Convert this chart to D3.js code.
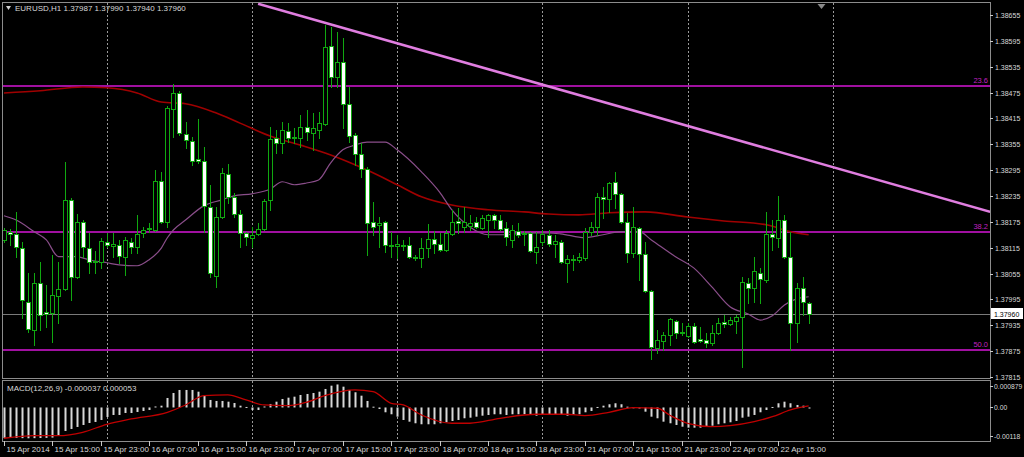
<!DOCTYPE html>
<html><head><meta charset="utf-8">
<script src="https://cdn.jsdelivr.net/npm/d3@7"></script>
<style>
html,body{margin:0;padding:0;background:#000;}
svg{display:block;}
text{font-family:"Liberation Sans",Arial,sans-serif;}
</style></head>
<body><svg id="c" width="1024" height="457"></svg>
<script>
// ---------- DATA ----------
const symbolTitle = "EURUSD,H1 1.37987 1.37990 1.37940 1.37960";
const macdTitle = "MACD(12,26,9) -0.000037 0.000053";
const opens = [1.38133,1.38152,1.38147,1.38114,1.37989,1.37924,1.38033,1.37966,1.37964,1.38003,
1.38019,1.38226,1.38047,1.38175,1.38114,1.38082,1.38082,1.38128,1.38119,1.38121,
1.38094,1.38128,1.38117,1.38149,1.38158,1.38156,1.38270,1.38175,1.38437,1.38474,
1.38379,1.38363,1.38321,1.38316,1.38210,1.38050,1.38186,1.38286,1.38233,1.38193,
1.38149,1.38138,1.38147,1.38158,1.38226,1.38370,1.38358,1.38386,1.38370,1.38370,
1.38395,1.38381,1.38388,1.38402,1.38583,1.38511,1.38546,1.38449,1.38377,1.38333,
1.38298,1.38175,1.38168,1.38175,1.38121,1.38119,1.38121,1.38121,1.38094,1.38091,
1.38114,1.38135,1.38124,1.38110,1.38147,1.38177,1.38163,1.38165,1.38175,1.38161,
1.38179,1.38191,1.38179,1.38161,1.38133,1.38154,1.38149,1.38149,1.38105,1.38128,
1.38145,1.38124,1.38128,1.38080,1.38087,1.38087,1.38091,1.38152,1.38163,1.38233,
1.38228,1.38268,1.38240,1.38175,1.38103,1.38161,1.38100,1.38015,1.37882,1.37899,
1.37913,1.37945,1.37920,1.37910,1.37934,1.37903,1.37901,1.37894,1.37917,1.37943,
1.37938,1.37945,1.37954,1.38033,1.38022,1.38056,1.38040,1.38147,1.38138,1.38179,
1.38094,1.37940,1.38022,1.37987];
const highs = [1.38161,1.38158,1.38198,1.38128,1.38056,1.38056,1.38082,1.38029,1.38098,1.38082,
1.38314,1.38230,1.38193,1.38179,1.38149,1.38107,1.38138,1.38149,1.38149,1.38133,
1.38140,1.38138,1.38191,1.38163,1.38172,1.38295,1.38291,1.38444,1.38495,1.38479,
1.38407,1.38372,1.38414,1.38349,1.38261,1.38210,1.38300,1.38309,1.38242,1.38203,
1.38152,1.38163,1.38172,1.38228,1.38395,1.38388,1.38407,1.38404,1.38393,1.38423,
1.38435,1.38428,1.38430,1.38632,1.38627,1.38616,1.38602,1.38488,1.38381,1.38358,
1.38302,1.38221,1.38186,1.38177,1.38152,1.38145,1.38133,1.38140,1.38098,1.38138,
1.38170,1.38154,1.38149,1.38156,1.38203,1.38207,1.38210,1.38191,1.38186,1.38191,
1.38193,1.38193,1.38191,1.38175,1.38168,1.38172,1.38154,1.38152,1.38152,1.38156,
1.38156,1.38145,1.38133,1.38098,1.38098,1.38103,1.38161,1.38175,1.38242,1.38256,
1.38268,1.38291,1.38242,1.38196,1.38210,1.38163,1.38128,1.38017,1.37924,1.37920,
1.37952,1.37947,1.37940,1.37940,1.37940,1.37931,1.37917,1.37936,1.37952,1.37959,
1.37954,1.37959,1.38047,1.38045,1.38094,1.38068,1.38198,1.38179,1.38235,1.38191,
1.38152,1.38033,1.38047,1.37990];
const lows = [1.38128,1.38121,1.38094,1.37952,1.37920,1.37889,1.37924,1.37931,1.37896,1.37940,
1.38017,1.37994,1.38045,1.38094,1.38056,1.38056,1.38068,1.38117,1.38094,1.38080,
1.38052,1.38103,1.38103,1.38140,1.38152,1.38154,1.38172,1.38163,1.38372,1.38377,
1.38346,1.38307,1.38312,1.38152,1.38047,1.38024,1.38184,1.38219,1.38186,1.38117,
1.38121,1.38117,1.38145,1.38156,1.38203,1.38335,1.38335,1.38360,1.38358,1.38349,
1.38365,1.38342,1.38370,1.38400,1.38488,1.38488,1.38393,1.38360,1.38307,1.38279,
1.38098,1.38145,1.38117,1.38105,1.38094,1.38091,1.38110,1.38091,1.38087,1.38070,
1.38094,1.38103,1.38108,1.38108,1.38145,1.38149,1.38152,1.38156,1.38161,1.38158,
1.38140,1.38161,1.38156,1.38121,1.38117,1.38140,1.38121,1.38105,1.38080,1.38121,
1.38119,1.38094,1.38080,1.38036,1.38063,1.38082,1.38087,1.38145,1.38145,1.38184,
1.38198,1.38207,1.38172,1.38082,1.38094,1.38040,1.38012,1.37857,1.37871,1.37878,
1.37889,1.37906,1.37913,1.37908,1.37894,1.37896,1.37885,1.37889,1.37915,1.37931,
1.37936,1.37917,1.37838,1.37987,1.37989,1.37987,1.38036,1.38110,1.38117,1.38091,
1.37878,1.37896,1.37959,1.37940];
const closes = [1.38156,1.38147,1.38117,1.37994,1.37926,1.38033,1.37959,1.37961,1.38005,1.38019,
1.38226,1.38047,1.38175,1.38117,1.38082,1.38084,1.38131,1.38121,1.38124,1.38096,
1.38133,1.38117,1.38147,1.38156,1.38161,1.38270,1.38175,1.38439,1.38474,1.38381,
1.38365,1.38316,1.38316,1.38212,1.38056,1.38186,1.38288,1.38233,1.38193,1.38149,
1.38140,1.38145,1.38158,1.38224,1.38367,1.38358,1.38388,1.38370,1.38372,1.38395,
1.38384,1.38393,1.38404,1.38581,1.38511,1.38546,1.38449,1.38374,1.38333,1.38298,
1.38172,1.38163,1.38172,1.38121,1.38119,1.38124,1.38120,1.38094,1.38091,1.38114,
1.38135,1.38124,1.38110,1.38149,1.38175,1.38172,1.38175,1.38172,1.38163,1.38184,
1.38191,1.38179,1.38158,1.38140,1.38156,1.38145,1.38147,1.38107,1.38117,1.38147,
1.38124,1.38131,1.38082,1.38089,1.38089,1.38094,1.38152,1.38163,1.38233,1.38228,
1.38265,1.38240,1.38175,1.38103,1.38163,1.38100,1.38015,1.37885,1.37901,1.37913,
1.37950,1.37917,1.37917,1.37934,1.37896,1.37899,1.37894,1.37917,1.37940,1.37938,
1.37947,1.37954,1.38036,1.38022,1.38061,1.38043,1.38147,1.38140,1.38179,1.38094,
1.37940,1.38022,1.37989,1.37960];

// slow moving average (dark red): bar index / value
const maSlowBars = [0,6,13,17,22,26,30,35,39,44,49,54,60,65,69,74,80,86,90,95,100,106,113,119,126,130,133];
const maSlowVals = [1.38474,1.38479,1.38488,1.38486,1.38474,1.38453,1.38449,1.38428,1.38404,1.38374,1.38353,1.38330,1.38295,1.38261,1.38233,1.38214,1.38203,1.38198,1.38193,1.38191,1.38196,1.38198,1.38186,1.38177,1.38168,1.38152,1.38145];
// fast moving average (purple)
const maFastBars = [0,2,5,7,9,12,14,17,19,22,24,26,27,28,30,33,36,38,41,44,46,48,50,52,54,56,58,60,63,65,69,72,74,77,80,83,86,90,92,96,99,102,105,107,111,114,117,120,123,125,127,129,131,133];
const maFastVals = [1.38189,1.38179,1.38152,1.38133,1.38094,1.38094,1.38087,1.38080,1.38075,1.38073,1.38087,1.38114,1.38138,1.38156,1.38179,1.38212,1.38226,1.38235,1.38240,1.38251,1.38268,1.38261,1.38265,1.38272,1.38312,1.38342,1.38353,1.38360,1.38360,1.38342,1.38291,1.38244,1.38203,1.38163,1.38145,1.38145,1.38149,1.38149,1.38147,1.38138,1.38145,1.38152,1.38152,1.38133,1.38094,1.38068,1.38024,1.37978,1.37961,1.37947,1.37957,1.37982,1.37996,1.38001];

// MACD histogram (main) per bar
const macdMain = [-0.001080,-0.001070,-0.001075,-0.001080,-0.001085,-0.001080,-0.001075,-0.001070,-0.001060,-0.001003,
-0.000827,-0.000757,-0.000686,-0.000616,-0.000546,-0.000510,-0.000440,-0.000334,-0.000264,-0.000264,
-0.000194,-0.000194,-0.000158,-0.000123,-0.000088,0.000035,0.000063,0.000334,0.000510,0.000616,
0.000616,0.000616,0.000556,0.000415,0.000264,0.000229,0.000229,0.000204,0.000158,0.000063,
0.000018,-0.000088,-0.000088,0.000035,0.000123,0.000204,0.000299,0.000345,0.000380,0.000440,
0.000475,0.000510,0.000556,0.000651,0.000767,0.000810,0.000732,0.000616,0.000535,0.000415,
0.000229,0.000028,-0.000053,-0.000169,-0.000239,-0.000324,-0.000440,-0.000500,-0.000556,-0.000591,
-0.000591,-0.000591,-0.000556,-0.000521,-0.000475,-0.000440,-0.000380,-0.000359,-0.000324,-0.000289,
-0.000264,-0.000239,-0.000239,-0.000264,-0.000239,-0.000239,-0.000239,-0.000264,-0.000289,-0.000264,
-0.000239,-0.000239,-0.000264,-0.000289,-0.000264,-0.000239,-0.000169,-0.000123,0.000018,0.000063,
0.000113,0.000148,0.000113,0.000028,0.000007,-0.000028,-0.000148,-0.000324,-0.000380,-0.000500,
-0.000556,-0.000616,-0.000676,-0.000711,-0.000711,-0.000711,-0.000676,-0.000641,-0.000591,-0.000556,
-0.000521,-0.000475,-0.000359,-0.000324,-0.000264,-0.000169,-0.000088,0.000018,0.000148,0.000204,
0.000148,0.000088,0.000063,-0.000037];
// MACD signal line
const signalBars = [0,5,9,13,17,21,27,30,33,37,40,43,47,50,53,58,61,64,66,69,74,77,82,88,93,96,100,104,108,110,113,117,120,124,127,130,133];
const signalVals = [-0.001084,-0.000993,-0.000993,-0.000873,-0.000591,-0.000405,-0.000169,0.000088,0.000415,0.000440,0.000264,0.000088,0.000063,0.000183,0.000415,0.000616,0.000556,0.000148,0.000088,-0.000264,-0.000556,-0.000556,-0.000380,-0.000239,-0.000239,-0.000289,-0.000169,-0.000007,-0.000028,-0.000264,-0.000556,-0.000676,-0.000641,-0.000500,-0.000324,-0.000088,0.000053];

// Fibonacci levels and trend line
const fibLabels = ["23.6","38.2","50.0"];
const fibPrices = [1.38490,1.38152,1.37878];
const trendBars = [42,150];
const trendPrices = [1.38681,1.38250];
const lastPrice = 1.37960;

// axes
const priceTicks = [1.38655,1.38595,1.38535,1.38475,1.38415,1.38355,1.38295,1.38235,1.38175,1.38115,1.38055,1.37995,1.37935,1.37875,1.37815];
const macdTickVals = [0.000879,0,-0.00118];
const macdTickLabels = ["0.000879","0.00","-0.00118"];
const dateLabelBars = [0,8,16,24,32,40,48,56,64,72,80,88,96,104,112,120,128];
const dateLabels = ["15 Apr 2014","15 Apr 15:00","15 Apr 23:00","16 Apr 07:00","16 Apr 15:00","16 Apr 23:00","17 Apr 07:00","17 Apr 15:00","17 Apr 23:00","18 Apr 07:00","18 Apr 15:00","18 Apr 23:00","21 Apr 07:00","21 Apr 15:00","21 Apr 23:00","22 Apr 07:00","22 Apr 15:00"];
const gridBars = [17,41,65,89,113,137];
const shiftBar = 135;

// ---------- LAYOUT ----------
const L = 3, R = 990, T = 3, B = 378, MT = 381, MB = 441;
const svg = d3.select("#c");
svg.append("rect").attr("width",1024).attr("height",457).attr("fill","#000");

const x = d3.scaleLinear().domain([0,163]).range([4,990.15]);
const y = d3.scaleLinear().domain([1.37815,1.38655]).range([376.9,15]);
const ym = d3.scaleLinear().domain([-0.00118,0.000879]).range([441,382.5]);
const px = i => Math.round(x(i)) + 0.5;

const defs = svg.append("defs");
defs.append("clipPath").attr("id","cp").append("rect").attr("x",L).attr("y",T).attr("width",R-L).attr("height",B-T);
defs.append("clipPath").attr("id","cpm").append("rect").attr("x",L).attr("y",MT).attr("width",R-L).attr("height",MB-MT);

const GREEN = "#10a810";
const gMain = svg.append("g").attr("clip-path","url(#cp)");
const gMacd = svg.append("g").attr("clip-path","url(#cpm)");

// grid (dotted vertical)
[ [gMain,T,B], [gMacd,MT,MB] ].forEach(([g,a,b]) => {
  g.selectAll(null).data(gridBars).enter().append("line")
    .attr("x1",d=>px(d)).attr("x2",d=>px(d)).attr("y1",a).attr("y2",b)
    .attr("stroke","#9a9a9a").attr("stroke-width",1).attr("stroke-dasharray","2,2");
});

// fib lines
gMain.selectAll(null).data(fibPrices).enter().append("line")
  .attr("x1",L).attr("x2",R).attr("y1",d=>Math.round(y(d))).attr("y2",d=>Math.round(y(d)))
  .attr("stroke","#a010a0").attr("stroke-width",2);

// current price line
gMain.append("line").attr("x1",L).attr("x2",R)
  .attr("y1",Math.round(y(lastPrice))+0.5).attr("y2",Math.round(y(lastPrice))+0.5)
  .attr("stroke","#7a7a7a").attr("stroke-width",1);

// moving averages
const lineMain = d3.line().curve(d3.curveMonotoneX);
gMain.append("path")
  .attr("d", lineMain(maSlowBars.map((b,i)=>[x(b), y(maSlowVals[i])])))
  .attr("fill","none").attr("stroke","#a00000").attr("stroke-width",1.6);
gMain.append("path")
  .attr("d", lineMain(maFastBars.map((b,i)=>[x(b), y(maFastVals[i])])))
  .attr("fill","none").attr("stroke","#8a4e8a").attr("stroke-width",1.2);

// candles
const idx = d3.range(opens.length);
gMain.selectAll(null).data(idx).enter().append("line")
  .attr("x1",i=>px(i)).attr("x2",i=>px(i))
  .attr("y1",i=>Math.round(y(highs[i]))).attr("y2",i=>Math.round(y(lows[i]))+1)
  .attr("stroke",GREEN).attr("stroke-width",1);
gMain.selectAll(null).data(idx).enter().append("rect")
  .attr("x",i=>px(i)-2).attr("width",4)
  .attr("y",i=>Math.round(y(Math.max(opens[i],closes[i])))+0.5)
  .attr("height",i=>Math.max(1, Math.round(y(Math.min(opens[i],closes[i]))) - Math.round(y(Math.max(opens[i],closes[i])))))
  .attr("fill",i=>closes[i]<opens[i] ? "#ffffff" : "#000000")
  .attr("stroke",GREEN).attr("stroke-width",1);

// trend line (extended through its two anchors)
const tSlope = (trendPrices[1]-trendPrices[0])/(trendBars[1]-trendBars[0]);
const tEnd = 163;
gMain.append("line")
  .attr("x1",x(trendBars[0])).attr("y1",y(trendPrices[0]))
  .attr("x2",x(tEnd)).attr("y2",y(trendPrices[0]+tSlope*(tEnd-trendBars[0])))
  .attr("stroke","#e07ee0").attr("stroke-width",2.6);

// fib labels
svg.selectAll(null).data(fibPrices).enter().append("text")
  .attr("x",R-2).attr("y",d=>Math.round(y(d))-3)
  .attr("text-anchor","end").attr("font-size",7.5).attr("fill","#c020c0")
  .text((d,i)=>fibLabels[i]);

// chart shift marker
svg.append("path")
  .attr("d",`M${px(shiftBar)-4},${T+1}L${px(shiftBar)+4},${T+1}L${px(shiftBar)},${T+6}Z`)
  .attr("fill","#8a8a8a");

// MACD histogram
const zeroY = ym(0);
gMacd.selectAll(null).data(idx).enter().append("rect")
  .attr("x",i=>Math.round(x(i))-0.5).attr("width",2)
  .attr("y",i=>Math.min(zeroY, ym(macdMain[i])))
  .attr("height",i=>Math.max(1,Math.abs(ym(macdMain[i])-zeroY)))
  .attr("fill","#d8d8d8");
gMacd.append("path")
  .attr("d", d3.line().curve(d3.curveMonotoneX)(signalBars.map((b,i)=>[x(b), ym(signalVals[i])])))
  .attr("fill","none").attr("stroke","#c00000").attr("stroke-width",1.3);

// frames
svg.append("rect").attr("x",L-0.5).attr("y",T-0.5).attr("width",R-L+1).attr("height",B-T+1)
  .attr("fill","none").attr("stroke","#8c8c8c").attr("stroke-width",1);
svg.append("rect").attr("x",L-0.5).attr("y",MT-0.5).attr("width",R-L+1).attr("height",MB-MT+1)
  .attr("fill","none").attr("stroke","#8c8c8c").attr("stroke-width",1);

// titles
svg.append("path").attr("d","M6,6L11,6L8.5,10Z").attr("fill","#d0d0d0");
svg.append("text").attr("x",15).attr("y",11).attr("font-size",8).attr("fill","#d8d8d8").text(symbolTitle);
svg.append("text").attr("x",7).attr("y",391).attr("font-size",8).attr("fill","#d8d8d8").text(macdTitle);

// price axis
const gA = svg.append("g");
const AX = 7;
priceTicks.forEach(p => {
  const yy = Math.round(y(p));
  gA.append("line").attr("x1",R).attr("x2",R+3).attr("y1",yy+0.5).attr("y2",yy+0.5).attr("stroke","#c8c8c8");
  gA.append("text").attr("x",R+5).attr("y",yy+3).attr("font-size",AX).attr("fill","#d8d8d8").text(p.toFixed(5));
});
// last price tag
const ly = Math.round(y(lastPrice));
gA.append("rect").attr("x",R+1).attr("y",ly-6).attr("width",32).attr("height",11).attr("fill","#ffffff");
gA.append("text").attr("x",R+4).attr("y",ly+3).attr("font-size",AX).attr("fill","#000").text(lastPrice.toFixed(5));

// MACD axis
macdTickVals.forEach((v,i) => {
  let yy = ym(v);
  if (i===0) yy += 3; else if (i===2) yy -= 5;
  yy = Math.round(yy);
  gA.append("line").attr("x1",R).attr("x2",R+3).attr("y1",yy+0.5).attr("y2",yy+0.5).attr("stroke","#c8c8c8");
  gA.append("text").attr("x",R+4).attr("y",yy+3).attr("font-size",6.8).attr("fill","#d8d8d8").text(macdTickLabels[i]);
});

// date axis
dateLabelBars.forEach((b,i) => {
  const xx = px(b);
  gA.append("line").attr("x1",xx).attr("x2",xx).attr("y1",MB).attr("y2",MB+5).attr("stroke","#c8c8c8");
  gA.append("text").attr("x",xx+2).attr("y",452).attr("font-size",8).attr("fill","#d8d8d8").text(dateLabels[i]);
});
</script></body></html>
